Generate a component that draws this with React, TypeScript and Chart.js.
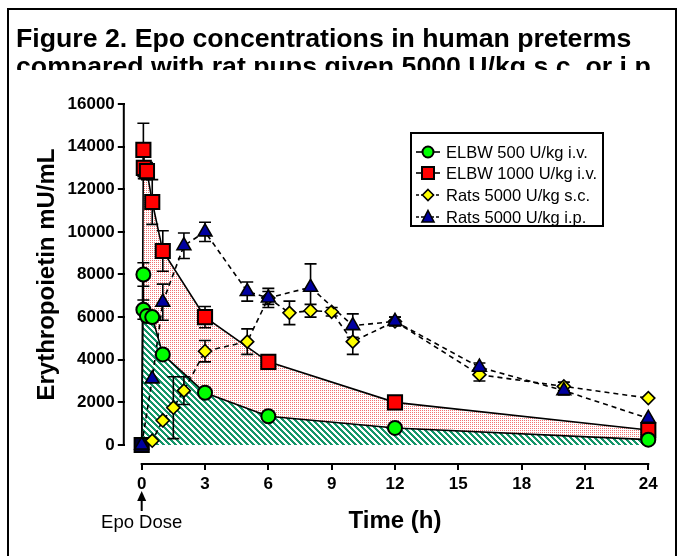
import React, { useEffect, useRef } from 'react';
import { Chart, registerables } from 'chart.js';

Chart.register(...registerables);

// ---------------- data ----------------
const elbw500Time = [0, 0.08, 0.08, 0.25, 0.5, 1, 3, 6, 12, 24];
const elbw500Epo = [0, 8000, 6350, 6050, 6000, 4250, 2450, 1350, 800, 250];
const elbw500Err = [0, 550, 450, 0, 0, 200, 0, 0, 0, 0];

const elbw1000Time = [0, 0.08, 0.1, 0.25, 0.5, 1, 3, 6, 12, 24];
const elbw1000Epo = [0, 13850, 13000, 12850, 11400, 9100, 6000, 3900, 2000, 700];
const elbw1000Err = [0, 1250, 500, 400, 1050, 950, 500, 150, 0, 0];

const ratsScTime = [0, 0.5, 1, 1.5, 2, 3, 5, 6, 7, 8, 9, 10, 12, 16, 20, 24];
const ratsScEpo = [0, 200, 1150, 1750, 2550, 4400, 4850, 6900, 6200, 6300, 6250, 4850, 5800, 3300, 2750, 2200];
const ratsScErr = [0, 0, 0, 1450, 650, 500, 600, 300, 550, 300, 200, 600, 200, 300, 200, 0];

const ratsIpTime = [0, 0.5, 1, 2, 3, 5, 6, 8, 10, 12, 16, 20, 24];
const ratsIpEpo = [0, 3100, 6700, 9350, 10000, 7200, 6900, 7400, 5600, 5800, 3650, 2550, 1250];
const ratsIpErr = [0, 0, 850, 600, 450, 450, 450, 1100, 550, 200, 200, 200, 0];

const seriesLabels = ['ELBW 500 U/kg i.v.', 'ELBW 1000 U/kg i.v.', 'Rats 5000 U/kg s.c.', 'Rats 5000 U/kg i.p.'];
const xTicks = [0, 3, 6, 9, 12, 15, 18, 21, 24];
const yTicks = [0, 2000, 4000, 6000, 8000, 10000, 12000, 14000, 16000];

const titleLine1 = 'Figure 2. Epo concentrations in human preterms';
const titleLine2 = 'compared with rat pups given 5000 U/kg s.c. or i.p.';
const xTitle = 'Time (h)';
const yTitle = 'Erythropoietin mU/mL';
const doseLabel = 'Epo Dose';

const FONT = "'Liberation Sans', Arial, Helvetica, sans-serif";

const toPoints = (xs: number[], ys: number[]) => xs.map((x, i) => ({ x, y: ys[i] }));

function makeHatch(): CanvasPattern | string {
  const c = document.createElement('canvas');
  c.width = 6; c.height = 6;
  const g = c.getContext('2d');
  if (!g) return 'rgba(0,150,100,0.5)';
  const img = g.createImageData(6, 6);
  for (let y = 0; y < 6; y++) {
    for (let x = 0; x < 6; x++) {
      const k = (((x - y) % 6) + 6) % 6;
      const o = (y * 6 + x) * 4;
      if (k < 3) { img.data[o] = 20; img.data[o + 1] = 150; img.data[o + 2] = 105; }
      else { img.data[o] = 255; img.data[o + 1] = 255; img.data[o + 2] = 255; }
      img.data[o + 3] = 255;
    }
  }
  g.putImageData(img, 0, 0);
  return g.createPattern(c, 'repeat') || 'rgba(0,150,100,0.5)';
}

function makeDots(): CanvasPattern | string {
  const c = document.createElement('canvas');
  c.width = 2; c.height = 2;
  const g = c.getContext('2d');
  if (!g) return 'rgba(255,0,0,0.25)';
  g.fillStyle = '#ffffff';
  g.fillRect(0, 0, 2, 2);
  g.fillStyle = 'rgb(242,115,115)';
  g.fillRect(0, 0, 1, 1);
  return g.createPattern(c, 'repeat') || 'rgba(255,0,0,0.25)';
}

const errorSets: [number[], number[], number[]][] = [
  [elbw500Time, elbw500Epo, elbw500Err],
  [elbw1000Time, elbw1000Epo, elbw1000Err],
  [ratsScTime, ratsScEpo, ratsScErr],
  [ratsIpTime, ratsIpEpo, ratsIpErr],
];

const errorBarPlugin = {
  id: 'errorBars',
  beforeDatasetsDraw(chart: any) {
    const { ctx } = chart;
    const xs = chart.scales.x;
    const ys = chart.scales.y;
    ctx.save();
    ctx.strokeStyle = '#000';
    ctx.lineWidth = 1.6;
    errorSets.forEach(([t, v, e]) => {
      t.forEach((tt, i) => {
        if (!e[i]) return;
        const px = xs.getPixelForValue(tt);
        const top = ys.getPixelForValue(v[i] + e[i]);
        const bot = ys.getPixelForValue(Math.max(0, v[i] - e[i]));
        ctx.beginPath();
        ctx.moveTo(px, top); ctx.lineTo(px, bot);
        ctx.moveTo(px - 6, top); ctx.lineTo(px + 6, top);
        ctx.moveTo(px - 6, bot); ctx.lineTo(px + 6, bot);
        ctx.stroke();
      });
    });
    ctx.restore();
  },
};

const axisPlugin = {
  id: 'prismAxes',
  afterDraw(chart: any) {
    const { ctx, chartArea } = chart;
    const xs = chart.scales.x;
    const ys = chart.scales.y;
    const xL = xs.getPixelForValue(xTicks[0]);
    const xR = xs.getPixelForValue(xTicks[xTicks.length - 1]);
    const yB = ys.getPixelForValue(yTicks[0]);
    const yT = ys.getPixelForValue(yTicks[yTicks.length - 1]);
    ctx.save();
    ctx.strokeStyle = '#000';
    ctx.lineWidth = 2;
    ctx.beginPath();
    ctx.moveTo(chartArea.left - 1, yB + 1);
    ctx.lineTo(chartArea.left - 1, yT - 1);
    ctx.moveTo(xL - 1, chartArea.bottom + 1);
    ctx.lineTo(xR + 1, chartArea.bottom + 1);
    ctx.stroke();

    // axis titles, centred on the drawn axis lines
    ctx.fillStyle = '#000';
    ctx.font = `bold 24px ${FONT}`;
    ctx.textAlign = 'center';
    ctx.textBaseline = 'middle';
    ctx.fillText(xTitle, (xL + xR) / 2, chartArea.bottom + 58);
    ctx.save();
    ctx.translate(47, (yB + yT) / 2);
    ctx.rotate(-Math.PI / 2);
    ctx.fillText(yTitle, 0, 0);
    ctx.restore();

    // Epo dose arrow + label at x = 0
    const x0 = xs.getPixelForValue(0);
    const yb = chartArea.bottom;
    ctx.lineWidth = 2;
    ctx.beginPath();
    ctx.moveTo(x0, yb + 48); ctx.lineTo(x0, yb + 36);
    ctx.stroke();
    ctx.beginPath();
    ctx.moveTo(x0, yb + 28);
    ctx.lineTo(x0 - 4.5, yb + 38);
    ctx.lineTo(x0 + 4.5, yb + 38);
    ctx.closePath();
    ctx.fill();
    ctx.font = `18.5px ${FONT}`;
    ctx.fillText(doseLabel, x0, yb + 60);
    ctx.restore();
  },
};

function LegendMarker({ kind }: { kind: number }) {
  const dash = kind >= 2 ? '3,2' : undefined;
  return (
    <svg width={26} height={18} style={{ position: 'absolute', left: 3, top: -9 }}>
      <line x1={1} y1={9} x2={25} y2={9} stroke="#000" strokeWidth={1.6} strokeDasharray={dash} />
      {kind === 0 && <circle cx={13} cy={9} r={5.5} fill="#00ff00" stroke="#000" strokeWidth={2} />}
      {kind === 1 && <rect x={7} y={3} width={12} height={12} fill="#ff0000" stroke="#000" strokeWidth={2} />}
      {kind === 2 && <polygon points="13,3.5 18.5,9 13,14.5 7.5,9" fill="#ffff00" stroke="#000" strokeWidth={1.6} />}
      {kind === 3 && <polygon points="13,2.5 19,14 7,14" fill="#0000a0" stroke="#000" strokeWidth={1.6} />}
    </svg>
  );
}

export default function App() {
  const canvasRef = useRef<HTMLCanvasElement | null>(null);

  useEffect(() => {
    const canvas = canvasRef.current;
    if (!canvas) return;
    const hatch = makeHatch();
    const dots = makeDots();
    const tickFont = { family: FONT, size: 17, weight: 'bold' as const };

    const chart = new Chart(canvas, {
      type: 'line',
      data: {
        datasets: [
          {
            label: seriesLabels[0],
            data: toPoints(elbw500Time, elbw500Epo),
            borderColor: '#000',
            borderWidth: 1.6,
            backgroundColor: hatch as any,
            fill: { target: 'origin' },
            pointStyle: 'circle',
            pointRadius: (c: any) => (c.dataIndex === 0 ? 0 : 7),
            pointBackgroundColor: '#00ff00',
            pointBorderColor: '#000',
            pointBorderWidth: 2,
            clip: false as any,
            order: 2,
          },
          {
            label: seriesLabels[1],
            data: toPoints(elbw1000Time, elbw1000Epo),
            borderColor: '#000',
            borderWidth: 1.6,
            backgroundColor: dots as any,
            fill: { target: '-1' },
            pointStyle: 'rect',
            pointRadius: 10,
            pointBackgroundColor: (c: any) => (c.dataIndex === 0 ? '#000033' : '#ff0000'),
            pointBorderColor: '#000',
            pointBorderWidth: 2,
            clip: false as any,
            order: 2,
          },
          {
            label: seriesLabels[2],
            data: toPoints(ratsScTime, ratsScEpo),
            borderColor: '#000',
            borderWidth: 1.6,
            borderDash: [5, 4],
            fill: false,
            pointStyle: 'rectRot',
            pointRadius: (c: any) => (c.dataIndex === 0 ? 0 : 6.5),
            pointBackgroundColor: '#ffff00',
            pointBorderColor: '#000',
            pointBorderWidth: 1.6,
            clip: false as any,
            order: 1,
          },
          {
            label: seriesLabels[3],
            data: toPoints(ratsIpTime, ratsIpEpo),
            borderColor: '#000',
            borderWidth: 1.6,
            borderDash: [5, 4],
            fill: false,
            pointStyle: 'triangle',
            pointRadius: 8,
            pointBackgroundColor: '#0000a0',
            pointBorderColor: '#000',
            pointBorderWidth: 1.6,
            clip: false as any,
            order: 0,
          },
        ],
      },
      options: {
        animation: false,
        responsive: false,
        devicePixelRatio: 1,
        layout: { padding: { left: 0, top: 104, right: 28.7, bottom: 0 } },
        plugins: {
          legend: { display: false },
          tooltip: { enabled: false },
          filler: { drawTime: 'beforeDatasetsDraw', propagate: false },
        },
        scales: {
          x: {
            type: 'linear',
            min: -0.8,
            max: 24,
            afterBuildTicks: (s: any) => { s.ticks = xTicks.map((v) => ({ value: v })); },
            afterFit: (s: any) => { s.height = 93; },
            grid: { drawOnChartArea: false, drawTicks: true, tickLength: 7, color: '#000', lineWidth: 2 },
            border: { display: false },
            ticks: { font: tickFont, color: '#000', padding: 4, maxRotation: 0, autoSkip: false, callback: (v: any) => String(v) },
            title: { display: false },
          },
          y: {
            type: 'linear',
            min: -845,
            max: 16000,
            afterBuildTicks: (s: any) => { s.ticks = yTicks.map((v) => ({ value: v })); },
            afterFit: (s: any) => { s.width = 124.8; },
            grid: { drawOnChartArea: false, drawTicks: true, tickLength: 7, color: '#000', lineWidth: 2 },
            border: { display: false },
            ticks: { font: tickFont, color: '#000', padding: 3, autoSkip: false, callback: (v: any) => String(v) },
            title: { display: false },
          },
        },
      },
      plugins: [errorBarPlugin, axisPlugin],
    } as any);

    return () => chart.destroy();
  }, []);

  const rowTops = [19.5, 41.2, 62.9, 84.6];
  const titleStyle: React.CSSProperties = {
    position: 'absolute', left: 0, fontFamily: FONT, fontWeight: 'bold', fontSize: 26.7,
    lineHeight: '30px', color: '#000', whiteSpace: 'nowrap',
  };

  return (
    <div style={{ position: 'fixed', left: 0, top: 0, width: 677, height: 556, background: '#fff', overflow: 'hidden' }}>
      <canvas ref={canvasRef} width={677} height={556} style={{ position: 'absolute', left: 0, top: 0, width: 677, height: 556 }} />
      <div style={{ position: 'absolute', left: 7, top: 8, width: 670, height: 560, borderLeft: '2px solid #000', borderTop: '2px solid #000', borderRight: '2px solid #000', boxSizing: 'border-box', pointerEvents: 'none' }} />
      <div style={{ position: 'absolute', left: 16, top: 0, width: 655, height: 70, overflow: 'hidden' }}>
        <div style={{ ...titleStyle, top: 22.5 }}>{titleLine1}</div>
        <div style={{ ...titleStyle, top: 50.5 }}>{titleLine2}</div>
      </div>
      <div style={{ position: 'absolute', left: 410, top: 132, width: 194, height: 95, border: '2px solid #000', boxSizing: 'border-box', background: '#fff' }}>
        {seriesLabels.map((lab, i) => (
          <div key={lab} style={{ position: 'absolute', left: 0, top: rowTops[i] - 2, width: '100%' }}>
            <LegendMarker kind={i} />
            <span style={{ position: 'absolute', left: 34, top: -10, fontFamily: FONT, fontSize: 16.5, lineHeight: '20px', whiteSpace: 'nowrap', color: '#000' }}>{lab}</span>
          </div>
        ))}
      </div>
    </div>
  );
}
